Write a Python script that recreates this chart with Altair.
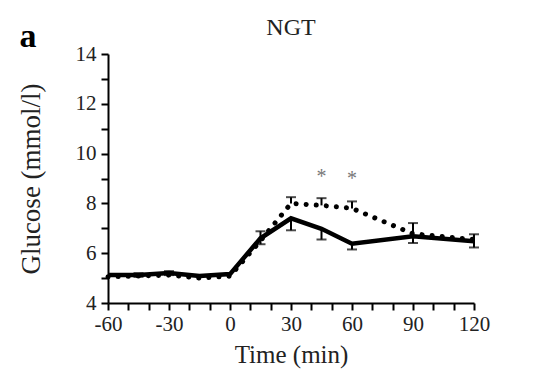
import altair as alt
import pandas as pd

# ---- data ----
times = [-60, -45, -30, -15, 0, 15, 30, 45, 60, 90, 120]
solid = [5.12, 5.12, 5.20, 5.08, 5.16, 6.60, 7.40, 6.98, 6.38, 6.68, 6.48]
dotted = [5.05, 5.08, 5.12, 5.00, 5.08, 6.50, 8.00, 7.92, 7.80, 6.78, 6.55]

err_t = [-45, -30, 15, 30, 30, 45, 45, 60, 60, 90, 120]
err_lo = [5.05, 5.12, 6.36, 6.92, 8.00, 6.55, 7.92, 6.15, 7.80, 6.41, 6.23]
err_hi = [5.20, 5.28, 6.88, 7.40, 8.25, 6.98, 8.21, 6.38, 8.08, 7.21, 6.76]

cap_t = [-45, -45, -30, -30, 15, 15, 30, 30, 45, 45, 60, 60, 90, 90, 120, 120]
cap_y = [5.05, 5.20, 5.12, 5.28, 6.36, 6.88, 6.92, 8.25, 6.55, 8.21, 6.15, 8.08, 6.41, 7.21, 6.23, 6.76]

star_t = [45, 60]
star_y = [9.25, 9.18]
star_txt = ["*", "*"]

x_ticks = list(range(-60, 121, 10))
y_ticks = list(range(4, 15))
title_text = "NGT"
panel_letter = "a"
x_title = "Time (min)"
y_title = "Glucose (mmol/l)"

FONT = "Liberation Serif"
TXT = "#222222"

lines = pd.DataFrame({"t": times, "solid": solid, "dotted": dotted})
errs = pd.DataFrame({"t": err_t, "lo": err_lo, "hi": err_hi})
caps = pd.DataFrame({"t": cap_t, "y": cap_y})
stars = pd.DataFrame({"t": star_t, "y": star_y, "s": star_txt})
letter = pd.DataFrame({"s": [panel_letter]})
ttl = pd.DataFrame({"s": [title_text]})

xs = alt.Scale(domain=[-60, 120], nice=False, zero=False)
ys = alt.Scale(domain=[4, 14], nice=False, zero=False)

common = dict(grid=False, domainColor="black", domainWidth=2,
              tickColor="black", tickWidth=2, tickSize=7,
              labelFont=FONT, labelFontSize=21, labelColor=TXT,
              labelBound=False, labelFlush=False, labelOverlap=False,
              titleFont=FONT, titleFontWeight="normal", titleColor=TXT)

xax = alt.Axis(values=x_ticks, labelExpr="datum.value % 30 == 0 ? '' + datum.value : ''",
               title=x_title, titleFontSize=25, titlePadding=8, labelPadding=3, **common)
yax = alt.Axis(values=y_ticks, labelExpr="datum.value % 2 == 0 ? '' + datum.value : ''",
               title=y_title, titleFontSize=27, titlePadding=30, labelPadding=5, **common)


def X(field):
    return alt.X(field, type="quantitative", scale=xs, axis=xax)


def Y(field):
    return alt.Y(field, type="quantitative", scale=ys, axis=yax)


base = alt.Chart(lines)

dot_line = base.mark_line(color="black", strokeWidth=5, strokeDash=[0.1, 10],
                          strokeCap="round").encode(x=X("t"), y=Y("dotted"))
solid_line = base.mark_line(color="black", strokeWidth=4.5).encode(x=X("t"), y=Y("solid"))
err_rule = alt.Chart(errs).mark_rule(color="black", strokeWidth=2).encode(
    x=X("t"), y=Y("lo"), y2="hi:Q")
err_cap = alt.Chart(caps).mark_tick(color="black", orient="horizontal",
                                    size=10, thickness=2).encode(x=X("t"), y=Y("y"))
star_text = alt.Chart(stars).mark_text(font=FONT, fontSize=20, color="#777777",
                                       baseline="middle", dy=5).encode(
    x=X("t"), y=Y("y"), text="s:N")
letter_text = alt.Chart(letter).mark_text(font=FONT, fontSize=34, fontWeight="bold",
                                          color="black", baseline="alphabetic").encode(
    x=alt.value(-80), y=alt.value(-7), text="s:N")
title_mark = alt.Chart(ttl).mark_text(font=FONT, fontSize=24, color=TXT,
                                      baseline="middle", align="center").encode(
    x=alt.value(183), y=alt.value(-26), text="s:N")

chart = alt.layer(dot_line, solid_line, err_rule, err_cap, star_text,
                  letter_text, title_mark).properties(
    width=366, height=249,
    padding={"left": 100, "top": 46, "right": 60, "bottom": 70},
    autosize=alt.AutoSizeParams(type="none"),
).configure_view(stroke=None).configure_axis(**common)

chart.save("out.html", embed_options={"renderer": "svg", "actions": False})
